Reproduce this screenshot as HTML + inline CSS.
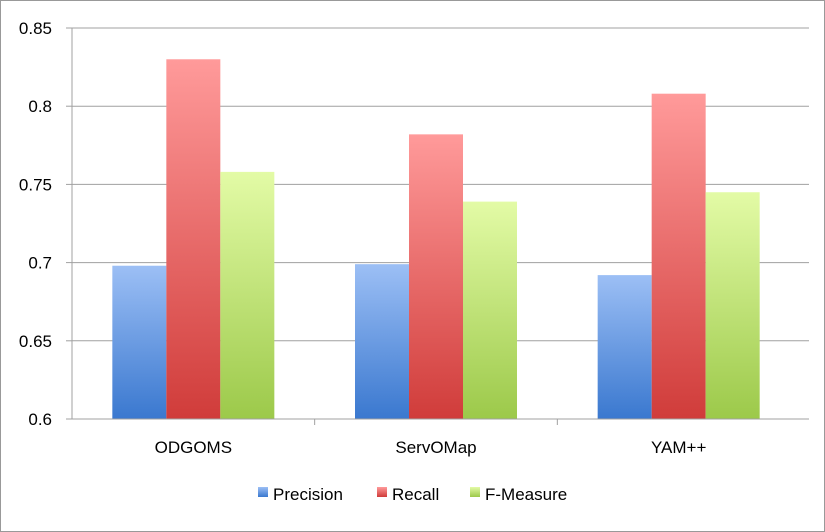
<!DOCTYPE html>
<html><head><meta charset="utf-8"><style>
html,body{margin:0;padding:0;background:#fff;}
svg{display:block;font-family:"Liberation Sans",sans-serif;}
</style></head><body>
<svg id="chart" width="825" height="532">
<defs>
<linearGradient id="gP" x1="0" y1="0" x2="0" y2="1"><stop offset="0" stop-color="#9cbff5"/><stop offset="1" stop-color="#3a78cf"/></linearGradient>
<linearGradient id="gR" x1="0" y1="0" x2="0" y2="1"><stop offset="0" stop-color="#ff9a9a"/><stop offset="1" stop-color="#d03c3a"/></linearGradient>
<linearGradient id="gF" x1="0" y1="0" x2="0" y2="1"><stop offset="0" stop-color="#e3fba6"/><stop offset="1" stop-color="#9cc94a"/></linearGradient>
</defs>
<rect x="0.5" y="0.5" width="824" height="531" fill="#fff" stroke="#999"/>
<g id="grid"></g><g id="bars"></g><g id="axes"></g><g id="legend"></g>
</svg>
<script>
const categories=["ODGOMS","ServOMap","YAM++"];
const seriesNames=["Precision","Recall","F-Measure"];
const precision=[0.698,0.699,0.692];
const recall=[0.830,0.782,0.808];
const fmeasure=[0.758,0.739,0.745];
const ticks=[0.6,0.65,0.7,0.75,0.8,0.85];
const tickLabels=["0.6","0.65","0.7","0.75","0.8","0.85"];
const NS="http://www.w3.org/2000/svg";
const L=72,R=800,T=28,B=419,ymin=0.6,ymax=0.85;
const y=v=>B-(v-ymin)/(ymax-ymin)*(B-T);
const gw=(R-L)/categories.length;
const x=i=>L+gw*(i+0.5);
const bw=54;
function mk(tag,attrs,parent){const e=document.createElementNS(NS,tag);for(const k in attrs)e.setAttribute(k,attrs[k]);document.getElementById(parent).appendChild(e);return e;}
ticks.forEach((t,i)=>{
 if(i>0){const g=mk("line",{x1:L,x2:809,y1:y(t),y2:y(t),stroke:"#a0a0a0","stroke-width":1},"grid");
 
 }
 const tk=mk("line",{x1:66,x2:L,y1:y(t),y2:y(t),stroke:"#a0a0a0"},"axes");
 
 
 const lb=mk("text",{x:52,y:y(t)+6,"text-anchor":"end","font-size":17,fill:"#000"},"axes");
 lb.textContent=tickLabels[i];
 
 
});
const series=[precision,recall,fmeasure];const fills=["url(#gP)","url(#gR)","url(#gF)"];
categories.forEach((c,i)=>{
 series.forEach((s,j)=>{
  const bx=x(i)-1.5*bw+j*bw;
  const r=mk("rect",{x:bx,y:y(s[i]),width:bw,height:B-y(s[i]),fill:fills[j]},"bars");
  
  
 });
 const tl=mk("text",{x:x(i),y:453,"text-anchor":"middle","font-size":17},"axes");
 tl.textContent=c;
 
 
 if(i>0){const d=mk("line",{x1:L+gw*i,x2:L+gw*i,y1:B,y2:B+6,stroke:"#a0a0a0"},"axes");
 
 }
});
const ax=mk("line",{x1:L,x2:L,y1:T,y2:B,stroke:"#a0a0a0"},"axes");


const xa=mk("line",{x1:L,x2:809,y1:B,y2:B,stroke:"#a0a0a0"},"axes");


const lx=[258,377,470];
seriesNames.forEach((n,j)=>{
 const sq=mk("rect",{x:lx[j],y:487,width:10,height:10,fill:fills[j]},"legend");
 
 
 const t=mk("text",{x:lx[j]+15,y:500,"font-size":17},"legend");
 t.textContent=n;
 
 
});
</script>
</body></html>
